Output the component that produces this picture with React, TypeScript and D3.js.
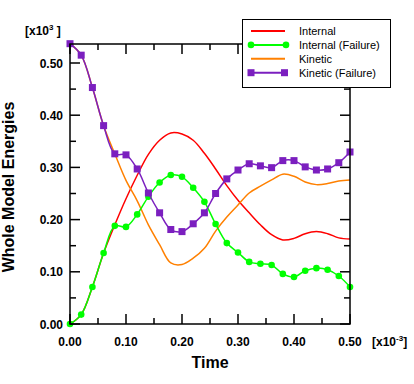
import React from "react";
import * as d3 from "d3";

// time in [x10^-3], energies in [x10^3]
const times = [0, 0.02, 0.04, 0.06, 0.08, 0.1, 0.12, 0.14, 0.16, 0.18, 0.2, 0.22, 0.24,
  0.26, 0.28, 0.3, 0.32, 0.34, 0.36, 0.38, 0.4, 0.42, 0.44, 0.46, 0.48, 0.5];

const internal = [0, 0.018, 0.071, 0.136, 0.19, 0.24, 0.285, 0.325, 0.352, 0.366, 0.364,
  0.352, 0.327, 0.297, 0.265, 0.237, 0.213, 0.19, 0.171, 0.161, 0.164, 0.173, 0.177,
  0.173, 0.165, 0.163];

const internalFailure = [0, 0.018, 0.071, 0.136, 0.188, 0.186, 0.21, 0.244, 0.271, 0.2855,
  0.282, 0.261, 0.234, 0.1915, 0.155, 0.137, 0.119, 0.1155, 0.113, 0.096, 0.09, 0.102,
  0.107, 0.104, 0.092, 0.071];

const kinetic = [0.537, 0.515, 0.453, 0.38, 0.326, 0.275, 0.236, 0.19, 0.152, 0.117, 0.114,
  0.126, 0.145, 0.178, 0.205, 0.228, 0.251, 0.264, 0.276, 0.287, 0.283, 0.272, 0.267,
  0.269, 0.274, 0.276];

const kineticFailure = [0.537, 0.515, 0.453, 0.38, 0.326, 0.324, 0.297, 0.251, 0.213, 0.181,
  0.177, 0.192, 0.213, 0.25, 0.278, 0.295, 0.307, 0.303, 0.2995, 0.313, 0.313, 0.301,
  0.295, 0.297, 0.309, 0.3295];

const seriesNames = ["Internal", "Internal (Failure)", "Kinetic", "Kinetic (Failure)"];
const xTickValues = [0, 0.1, 0.2, 0.3, 0.4, 0.5];
const yTickValues = [0, 0.1, 0.2, 0.3, 0.4, 0.5];

const FONT = "'Liberation Sans', Arial, sans-serif";
const PURPLE = "#7b1fbf";
const GREEN = "#00ff00";
const RED = "#ff0000";
const ORANGE = "#ff8000";

export default function App() {
  const x = d3.scaleLinear().domain([0, 0.5]).range([70, 350]);
  const y = d3.scaleLinear().domain([0, 0.5364]).range([324, 44]);

  const line = (vals: number[]) =>
    d3.line<number>()
      .x((_, i) => x(times[i]))
      .y((d) => y(d))
      .curve(d3.curveCatmullRom.alpha(0.5))(vals) || "";

  const xMinor = d3.range(0, 0.5001, 0.05);
  const yMinor = d3.range(0, 0.5364, 0.05);
  const isMajor = (v: number) => Math.abs(v * 10 - Math.round(v * 10)) < 1e-6;

  const [x0, x1] = x.range();
  const [y0, y1] = y.range();

  const legendRows = [
    { name: seriesNames[0], color: RED, marker: "none" },
    { name: seriesNames[1], color: GREEN, marker: "circle" },
    { name: seriesNames[2], color: ORANGE, marker: "none" },
    { name: seriesNames[3], color: PURPLE, marker: "square" },
  ];

  return (
    <svg width={414} height={384} style={{ position: "absolute", left: 0, top: 0, background: "#fff" }}
      fontFamily={FONT}>
      {/* curves */}
      <path d={line(internal)} fill="none" stroke={RED} strokeWidth={1.5} />
      <path d={line(kinetic)} fill="none" stroke={ORANGE} strokeWidth={1.5} />
      <path d={line(internalFailure)} fill="none" stroke={GREEN} strokeWidth={1.5} />
      {internalFailure.map((v, i) => (
        <circle key={"g" + i} cx={x(times[i])} cy={y(v)} r={3.3} fill={GREEN} />
      ))}
      <path d={line(kineticFailure)} fill="none" stroke={PURPLE} strokeWidth={1.5} />
      {kineticFailure.map((v, i) => (
        <rect key={"p" + i} x={x(times[i]) - 3.5} y={y(v) - 3.5} width={7} height={7} fill={PURPLE} />
      ))}

      {/* frame */}
      <rect x={x0} y={y1} width={x1 - x0} height={y0 - y1} fill="none" stroke="#000" strokeWidth={1.5} />
      {xMinor.map((v, i) => {
        const len = isMajor(v) ? 10 : 6;
        return (
          <g key={"xt" + i} stroke="#000" strokeWidth={1.5}>
            <line x1={x(v)} x2={x(v)} y1={y0} y2={y0 - len} />
            <line x1={x(v)} x2={x(v)} y1={y1} y2={y1 + len} />
          </g>
        );
      })}
      {yMinor.map((v, i) => {
        const len = isMajor(v) ? 10 : 6;
        return (
          <g key={"yt" + i} stroke="#000" strokeWidth={1.5}>
            <line x1={x0} x2={x0 + len} y1={y(v)} y2={y(v)} />
            <line x1={x1} x2={x1 - len} y1={y(v)} y2={y(v)} />
          </g>
        );
      })}

      {/* tick labels */}
      {xTickValues.map((v) => (
        <text key={"xl" + v} x={x(v)} y={346} textAnchor="middle" fontSize={12} fontWeight="bold">
          {d3.format(".2f")(v)}
        </text>
      ))}
      {yTickValues.map((v) => (
        <text key={"yl" + v} x={63} y={y(v) + 4.5} textAnchor="end" fontSize={12} fontWeight="bold">
          {d3.format(".2f")(v)}
        </text>
      ))}

      {/* multipliers */}
      <text x={25} y={35} fontSize={12} fontWeight="bold">
        [x10<tspan fontSize={8} dy={-5}>3</tspan><tspan dy={5}> ]</tspan>
      </text>
      <text x={372} y={346} fontSize={12} fontWeight="bold">
        [x10<tspan fontSize={8} dy={-5}>-3</tspan><tspan dy={5}>]</tspan>
      </text>

      {/* axis titles */}
      <text x={210} y={368} textAnchor="middle" fontSize={16} fontWeight="bold">Time</text>
      <text transform="translate(14,187) rotate(-90)" textAnchor="middle" fontSize={16} fontWeight="bold">
        Whole Model Energies
      </text>

      {/* legend */}
      <rect x={242.5} y={19.5} width={148} height={68} fill="#fff" stroke="#000" strokeWidth={1} />
      {legendRows.map((r, i) => {
        const ly = 31 + i * 13.9;
        return (
          <g key={r.name}>
            <line x1={251} x2={285} y1={ly} y2={ly} stroke={r.color} strokeWidth={2} />
            {r.marker === "circle" && (
              <>
                <circle cx={251} cy={ly} r={3.3} fill={r.color} />
                <circle cx={286} cy={ly} r={3.3} fill={r.color} />
              </>
            )}
            {r.marker === "square" && (
              <>
                <rect x={247.5} y={ly - 3.5} width={7} height={7} fill={r.color} />
                <rect x={281} y={ly - 3.5} width={7} height={7} fill={r.color} />
              </>
            )}
            <text x={299} y={ly + 4} fontSize={11}>{r.name}</text>
          </g>
        );
      })}
    </svg>
  );
}
